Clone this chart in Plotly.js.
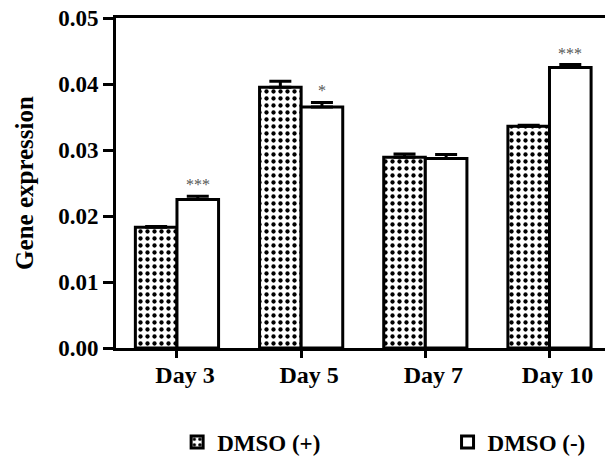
<!DOCTYPE html>
<html>
<head>
<meta charset="utf-8">
<script src="https://cdn.plot.ly/plotly-3.0.1.min.js"></script>
<style>html,body{margin:0;padding:0;background:#fff;}#chart{width:605px;height:464px;}</style>
</head>
<body>
<div id="chart"></div>
<script>
const days = ['Day 3', 'Day 5', 'Day 7', 'Day 10'];
const dmsoPlus = [0.0183, 0.0395, 0.0289, 0.0336];
const dmsoPlusErr = [0.0001, 0.0009, 0.0005, 0.00015];
const dmsoMinus = [0.0225, 0.0365, 0.0287, 0.0425];
const dmsoMinusErr = [0.0005, 0.0007, 0.0006, 0.00045];
const sigMinus = ['***', '*', '', '***'];

const serif = 'Liberation Serif, Times New Roman, serif';
const legFont = {family: serif, size: 23, weight: 'bold', color: '#000'};

const traces = [
  {
    type: 'bar', name: 'DMSO (+)', x: days, y: dmsoPlus, legend: 'legend',
    marker: {color: '#ffffff', line: {color: '#000', width: 3},
      pattern: {shape: '.', fgcolor: '#000', bgcolor: '#fff', size: 7, solidity: 0.3}},
    error_y: {type: 'data', symmetric: false, array: dmsoPlusErr, arrayminus: [0,0,0,0],
      color: '#000', thickness: 3, width: 11}
  },
  {
    type: 'bar', name: 'DMSO (-)', x: days, y: dmsoMinus, legend: 'legend2',
    marker: {color: '#ffffff', line: {color: '#000', width: 3}},
    error_y: {type: 'data', symmetric: false, array: dmsoMinusErr, arrayminus: [0,0,0,0],
      color: '#000', thickness: 3, width: 11}
  }
];

const annotations = days.map((d, i) => ({
  x: d, y: dmsoMinus[i] + dmsoMinusErr[i], xref: 'x', yref: 'y',
  text: sigMinus[i], showarrow: false, xshift: 21, yanchor: 'bottom', yshift: 1,
  font: {family: serif, size: 16, color: '#555'}
})).filter(a => a.text);

const layout = {
  width: 605, height: 464,
  margin: {l: 116, r: 0, t: 18, b: 116, autoexpand: false},
  paper_bgcolor: '#fff', plot_bgcolor: '#fff',
  barmode: 'group', bargap: 0.33, bargroupgap: 0,
  showlegend: true,
  legend: {orientation: 'h', x: 0.125, y: -0.285, xanchor: 'left', yanchor: 'middle', font: legFont},
  legend2: {orientation: 'h', x: 0.678, y: -0.285, xanchor: 'left', yanchor: 'middle', font: legFont},
  xaxis: {
    range: [-0.491, 3.447], showline: true, mirror: true, linecolor: '#000', linewidth: 3,
    ticks: 'outside', ticklen: 7, tickwidth: 3, tickcolor: '#000', showgrid: false,
    ticklabelshift: 8, ticklabelstandoff: -4,
    tickfont: {family: serif, size: 24, weight: 'bold', color: '#000'}, zeroline: false
  },
  yaxis: {
    range: [0, 0.05], tickvals: [0, 0.01, 0.02, 0.03, 0.04, 0.05],
    ticktext: ['0.00', '0.01', '0.02', '0.03', '0.04', '0.05'],
    showline: true, linecolor: '#000', linewidth: 3,
    ticks: 'outside', ticklen: 10, tickwidth: 3, tickcolor: '#000', showgrid: false, zeroline: false,
    tickfont: {family: serif, size: 23, weight: 'bold', color: '#000'},
    title: {text: 'Gene expression', standoff: 18, font: {family: serif, size: 25, weight: 'bold', color: '#000'}}
  },
  annotations: annotations
};

Plotly.newPlot('chart', traces, layout, {displayModeBar: false, staticPlot: true});
</script>
</body>
</html>
